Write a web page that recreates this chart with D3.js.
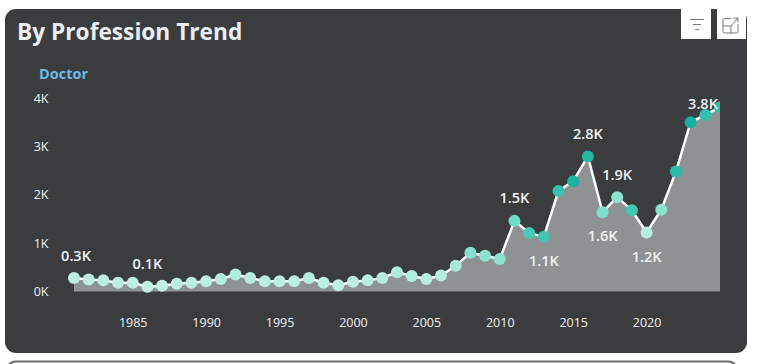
<!DOCTYPE html>
<html>
<head>
<meta charset="utf-8">
<script src="https://cdn.jsdelivr.net/npm/d3@7"></script>
<style>
    html, body { margin: 0; padding: 0; background: #fff; overflow: hidden; }
    text { font-family: "Open Sans", "Noto Sans", sans-serif; }
    .tick text { fill: #f2f2f2; font-size: 12.5px; }
</style>
</head>
<body>
<div id="chart"></div>
<script>
// years on the x axis
const years = d3.range(1981, 2026);

// doctors per year, in thousands
const values = [
    0.28, 0.25, 0.23, 0.18, 0.18, 0.10, 0.12, 0.16, 0.18, 0.21,
    0.26, 0.35, 0.28, 0.21, 0.21, 0.21, 0.28, 0.18, 0.13, 0.20,
    0.23, 0.28, 0.40, 0.32, 0.26, 0.33, 0.53, 0.80, 0.74, 0.67,
    1.46, 1.21, 1.13, 2.08, 2.28, 2.79, 1.64, 1.95, 1.68, 1.22,
    1.69, 2.48, 3.50, 3.65, 3.81
];

// second measure driving the dot colour, 0 to 1
const shades = [
    0.05, 0.05, 0.05, 0.05, 0.05, 0.02, 0.03, 0.05, 0.05, 0.06,
    0.08, 0.12, 0.08, 0.06, 0.06, 0.06, 0.08, 0.05, 0.03, 0.05,
    0.06, 0.08, 0.12, 0.10, 0.08, 0.10, 0.15, 0.32, 0.30, 0.30,
    0.42, 0.68, 0.72, 0.78, 0.95, 0.90, 0.36, 0.28, 0.72, 0.08,
    0.30, 0.85, 1.00, 0.80, 0.85
];

const xTicks = [1985, 1990, 1995, 2000, 2005, 2010, 2015, 2020];
const yTicks = [0, 1, 2, 3, 4];

// years that carry a data label
const labelsAbove = [1981, 1986, 2011, 2016, 2018];
const labelsBelow = [2013, 2017, 2020];
const labelsLeft = [2025];

const width = 767;
const height = 364;

const svg = d3.select("#chart")
    .append("svg")
    .attr("width", width)
    .attr("height", height)
    .style("display", "block");

// next visual peeking in under this one
svg.append("rect")
    .attr("x", 6)
    .attr("y", 361.5)
    .attr("width", 732)
    .attr("height", 30)
    .attr("rx", 10)
    .attr("fill", "#fff")
    .attr("stroke", "#6f6f6f")
    .attr("stroke-width", 2);

// panel
svg.append("rect")
    .attr("x", 5)
    .attr("y", 9)
    .attr("width", 742)
    .attr("height", 344)
    .attr("rx", 11)
    .attr("fill", "#3b3c3e");

svg.append("text")
    .attr("x", 17)
    .attr("y", 40)
    .attr("fill", "#eaeef2")
    .attr("font-size", "22.7px")
    .attr("font-weight", "bold")
    .text("By Profession Trend");

svg.append("text")
    .attr("x", 39)
    .attr("y", 79)
    .attr("fill", "#6cb8e6")
    .attr("font-size", "14.5px")
    .attr("font-weight", "bold")
    .text("Doctor");

// scales
const x = d3.scaleLinear().domain([1981, 2025]).range([74, 720]);
const y = d3.scaleLinear().domain([0, 4]).range([291.5, 98]);
const color = d3.scaleLinear().domain([0, 0.5, 1]).range(["#c6f2e3", "#62d8c2", "#14b0a0"]);

// axes
svg.append("g")
    .attr("transform", "translate(48.5,0)")
    .call(d3.axisLeft(y).tickValues(yTicks).tickSize(0).tickPadding(0).tickFormat(d => d + "K"))
    .call(g => g.select(".domain").remove());

svg.append("g")
    .attr("transform", "translate(0,318)")
    .call(d3.axisBottom(x).tickValues(xTicks).tickSize(0).tickPadding(0).tickFormat(d3.format("d")))
    .call(g => g.select(".domain").remove());

// the plot stops at the last year, cutting the last dot in half
svg.append("clipPath")
    .attr("id", "plot-clip")
    .append("rect")
    .attr("x", 60)
    .attr("y", 80)
    .attr("width", 660)
    .attr("height", 220);

const plot = svg.append("g").attr("clip-path", "url(#plot-clip)");
const data = years.map((d, i) => ({ year: d, value: values[i], shade: shades[i] }));

plot.append("path")
    .datum(data)
    .attr("fill", "#8e9293")
    .attr("d", d3.area().x(d => x(d.year)).y0(y(0)).y1(d => y(d.value)));

plot.append("path")
    .datum(data)
    .attr("fill", "none")
    .attr("stroke", "#fff")
    .attr("stroke-width", 2.5)
    .attr("d", d3.line().x(d => x(d.year)).y(d => y(d.value)));

plot.selectAll("circle")
    .data(data)
    .join("circle")
    .attr("cx", d => x(d.year))
    .attr("cy", d => y(d.value))
    .attr("r", 6)
    .attr("fill", d => color(d.shade));

// data labels
const labelled = data.filter(d => labelsAbove.includes(d.year) || labelsBelow.includes(d.year) || labelsLeft.includes(d.year));

svg.selectAll(".data-label")
    .data(labelled)
    .join("text")
    .attr("class", "data-label")
    .attr("x", d => x(d.year) + (labelsLeft.includes(d.year) ? -17 : d.year == 1981 ? 2 : 0))
    .attr("y", d => {
        if (labelsBelow.includes(d.year)) return y(d.value) + 24;
        if (labelsLeft.includes(d.year)) return y(d.value) - 3;
        return y(d.value) - 22.5;
    })
    .attr("dy", "0.35em")
    .attr("text-anchor", "middle")
    .attr("fill", "#f2f2f2")
    .attr("font-size", "14.5px")
    .attr("font-weight", 600)
    .text(d => d.value.toFixed(1) + "K");

// header buttons
const buttons = svg.append("g");
[681, 717].forEach(bx => {
    buttons.append("rect")
        .attr("x", bx)
        .attr("y", 9)
        .attr("width", bx == 681 ? 30 : 29)
        .attr("height", 30)
        .attr("fill", "#fff");
});

// filter icon
[[690, 704, 19.5], [693, 701, 24.5], [695, 699, 29.5]].forEach(l => {
    buttons.append("line")
        .attr("x1", l[0])
        .attr("x2", l[1])
        .attr("y1", l[2])
        .attr("y2", l[2])
        .attr("stroke", "#777")
        .attr("stroke-width", 1);
});

// focus mode icon
buttons.append("path")
    .attr("d", "M731 18.5h-6.5a1.5 1.5 0 0 0-1.5 1.5v11.5a1.5 1.5 0 0 0 1.5 1.5h12a1.5 1.5 0 0 0 1.5-1.5v-7.5M723 26h8v7M731 26l7-8M733.5 18h4.5v4.5")
    .attr("fill", "none")
    .attr("stroke", "#777")
    .attr("stroke-width", 1);
</script>
</body>
</html>
